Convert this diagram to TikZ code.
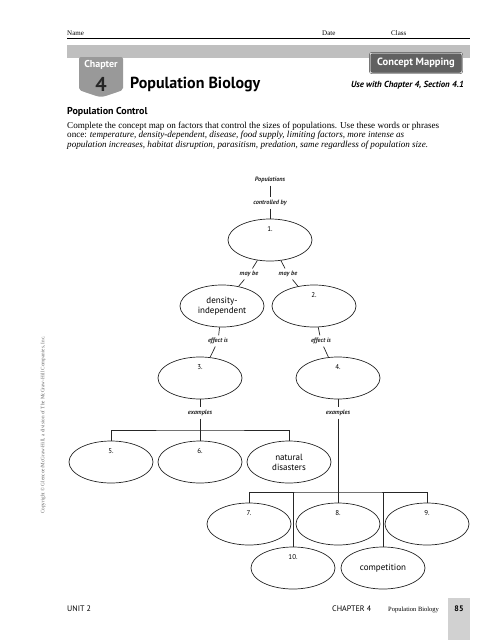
\documentclass[tikz,border=0pt]{standalone}
\usepackage{fontspec}
\setmainfont{Liberation Serif}
\setsansfont{PT Sans}
\usetikzlibrary{
  positioning,
  shapes.geometric
}

\begin{document}
\begin{tikzpicture}[
  x=1pt, y=-1pt,
  font=\sffamily,
  blank/.style={
    ellipse, draw=black!85, line width=0.7pt,
    minimum width=84pt, minimum height=42pt, inner sep=0pt,
    align=center, font=\sffamily\fontsize{9}{10}\selectfont
  },
  numbered/.style={
    blank,
    label={[anchor=north, yshift=-4pt, font=\sffamily\fontsize{7}{8}\selectfont]north:#1}
  },
  linkword/.style={font=\sffamily\bfseries\itshape\fontsize{6.3}{7}\selectfont, text=black!85, inner sep=2.5pt},
  wire/.style={draw=black!85, line width=0.7pt},
  smallserif/.style={font=\rmfamily\fontsize{7}{8}\selectfont, anchor=base west, inner sep=0pt},
]
\useasboundingbox (0,0) rectangle (500,640);

% Page header
\node[smallserif] (name) at (67,35) {Name};
\node[smallserif] (date) at (322,35) {Date};
\node[smallserif] (class) at (391,35) {Class};
\draw[line width=0.6pt] (67,38) -- (470,38);
\fill[black!25] (67,45) rectangle (470,58);

% Chapter tab and title
\fill[black!40, rounded corners=2pt] (79,57) -- (79,90) .. controls (90,94) and (96,96) .. (101,97)
  .. controls (106,96) and (112,94) .. (123,90) -- (123,57) -- cycle;
\node[font=\sffamily\bfseries\fontsize{10}{11}\selectfont, text=white] (chap) at (101,65) {Chapter};
\node[font=\sffamily\bfseries\fontsize{20}{21}\selectfont, text=black!85] (chnum) at (101,84) {4};
\node[font=\sffamily\bfseries\fontsize{16}{17}\selectfont, anchor=base west, inner sep=0pt] (title)
  at (130,88) {Population Biology};

% Concept Mapping box
\node[draw=black!75, double=black!15, double distance=1pt, line width=0.4pt, fill=black!62,
  rounded corners=2pt, minimum width=92pt, minimum height=20pt, text=white,
  font=\sffamily\bfseries\fontsize{10.5}{11}\selectfont] (cmap) at (416,63) {Concept Mapping};
\node[font=\sffamily\bfseries\itshape\fontsize{8.8}{9}\selectfont, anchor=base east, inner sep=0pt]
  (use) at (464,87) {Use with Chapter 4, Section 4.1};

% Section heading and instructions
\node[font=\sffamily\bfseries\fontsize{10}{11}\selectfont, anchor=base west, inner sep=0pt]
  (sect) at (67,114) {Population Control};
\node[font=\rmfamily\fontsize{9.1}{9.3}\selectfont, anchor=north west, inner sep=0pt, align=left]
  (intro) at (67,122)
  {Complete the concept map on factors that control the sizes of populations. Use these words or phrases \\
   once: \emph{temperature, density-dependent, disease, food supply, limiting factors, more intense as} \\
   \emph{population increases, habitat disruption, parasitism, predation, same regardless of population size.}};

% Concept map
\node[linkword] (pop) at (270,180) {Populations};
\node[linkword] (ctrl) at (270,203) {controlled by};
\node[numbered=1.] (e1) at (270,240) {};
\node[linkword] (mb1) at (249,274) {may be};
\node[linkword] (mb2) at (288,274) {may be};
\node[blank] (dens) at (222,306) {density-\\independent};
\node[numbered=2.] (e2) at (314,306) {};
\node[linkword] (ef1) at (218,341) {effect is};
\node[linkword] (ef2) at (321,341) {effect is};
\node[numbered=3.] (e3) at (200,378) {};
\node[numbered=4.] (e4) at (338,378) {};
\node[linkword] (ex1) at (200,413) {examples};
\node[linkword] (ex2) at (338,413) {examples};
\node[numbered=5.] (e5) at (111,462) {};
\node[numbered=6.] (e6) at (200,462) {};
\node[blank] (nat) at (289,462) {natural\\disasters};
\node[numbered=7.] (e7) at (249,524) {};
\node[numbered=8.] (e8) at (338,524) {};
\node[numbered=9.] (e9) at (427,524) {};
\node[numbered=10.] (e10) at (293,568) {};
\node[blank] (comp) at (383,568) {competition};
\coordinate (fork1) at (200,430);
\coordinate (fork2) at (338,492);

\draw[wire] (pop) -- (ctrl) -- (e1);
\draw[wire] (e1) -- (mb1) -- (dens);
\draw[wire] (e1) -- (mb2) -- (e2);
\draw[wire] (dens) -- (ef1) -- (e3);
\draw[wire] (e2) -- (ef2) -- (e4);
\draw[wire] (e3) -- (ex1) -- (e6);
\draw[wire] (e5.north) |- (fork1) -| (nat.north);
\draw[wire] (e4) -- (ex2) -- (e8);
\draw[wire] (e7.north) |- (fork2) -| (e9.north);
\draw[wire] (e10.north) -- (e10.north |- fork2);
\draw[wire] (comp.north) -- (comp.north |- fork2);

% Margin note
\node[rotate=90, font=\rmfamily\fontsize{5.2}{6}\selectfont, text=black!60] (copy) at (43,425)
  {Copyright © Glencoe/McGraw-Hill, a division of The McGraw-Hill Companies, Inc.};

% Page footer
\node[font=\sffamily\fontsize{8}{9}\selectfont, anchor=base west, inner sep=0pt] (unit) at (67,611) {UNIT 2};
\node[font=\sffamily\fontsize{8}{9}\selectfont, anchor=base west, inner sep=0pt] (chfoot) at (332,611) {CHAPTER 4};
\node[font=\rmfamily\fontsize{6.5}{7}\selectfont, anchor=base west, inner sep=0pt] (ptitle) at (388,611) {Population Biology};
\fill[black!18] (448,598) rectangle (470,640);
\node[font=\sffamily\bfseries\fontsize{8}{9}\selectfont, anchor=base] (page) at (459,611) {85};
\end{tikzpicture}
\end{document}
